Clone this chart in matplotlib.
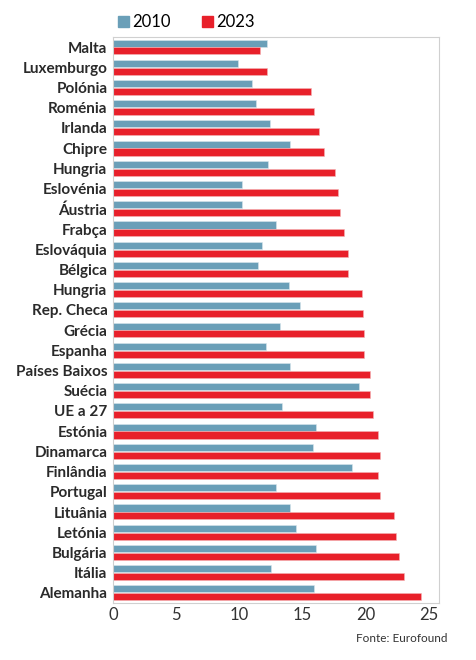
import numpy as np
import matplotlib
matplotlib.use("Agg")
import matplotlib.pyplot as plt
from matplotlib.patches import Patch

# dados
paises = ["Malta", "Luxemburgo", "Polónia", "Roménia", "Irlanda", "Chipre",
          "Hungria", "Eslovénia", "Áustria", "Frabça", "Eslováquia", "Bélgica",
          "Hungria", "Rep. Checa", "Grécia", "Espanha", "Países Baixos", "Suécia",
          "UE a 27", "Estónia", "Dinamarca", "Finlândia", "Portugal", "Lituânia",
          "Letónia", "Bulgária", "Itália", "Alemanha"]
v2010 = [12.2, 9.9, 11.0, 11.3, 12.4, 14.0, 12.3, 10.2, 10.2, 12.9, 11.8, 11.5,
         13.9, 14.8, 13.2, 12.1, 14.0, 19.5, 13.4, 16.1, 15.8, 18.9, 12.9, 14.0,
         14.5, 16.1, 12.5, 15.9]
v2023 = [11.6, 12.2, 15.7, 15.9, 16.3, 16.7, 17.6, 17.8, 18.0, 18.3, 18.6, 18.6,
         19.7, 19.8, 19.9, 19.9, 20.3, 20.3, 20.6, 21.0, 21.1, 21.0, 21.1, 22.2,
         22.4, 22.6, 23.0, 24.4]
anos = ["2010", "2023"]
cores = ["#6a9fb8", "#e8202a"]

plt.rcParams["font.family"] = ["Lato", "DejaVu Sans"]

fig = plt.figure(figsize=(4.76, 6.6), dpi=100)
ax = fig.add_axes([113/476, 1 - 603/660, (439 - 113)/476, (603 - 37)/660])

y = np.arange(len(paises))
ax.barh(y - 0.2, v2010, height=0.35, color=cores[0], edgecolor="#d8e6ec", linewidth=0.4)
ax.barh(y + 0.19, v2023, height=0.35, color=cores[1], edgecolor="#f3b3b5", linewidth=0.4)

ax.set_ylim(len(paises) - 0.5, -0.5)
ax.set_xlim(0, 25.8)
ax.set_yticks(y)
ax.set_yticklabels(paises, fontsize=11, fontweight="bold", color="#2a2a2a")
ax.set_xticks([0, 5, 10, 15, 20, 25])
ax.set_xticklabels(["0", "5", "10", "15", "20", "25"], fontsize=12, color="#333333")
ax.tick_params(axis="both", length=0)
ax.tick_params(axis="y", pad=4)
ax.tick_params(axis="x", pad=3)
for s in ax.spines.values():
    s.set_color("#d0d0d0")
    s.set_linewidth(0.8)

handles = [Patch(color=c, label=a) for c, a in zip(cores, anos)]
fig.legend(handles=handles, loc="center left", bbox_to_anchor=(111/476, 1 - 22/660),
           ncol=2, frameon=False, fontsize=12, handlelength=0.65, handleheight=0.65,
           handletextpad=0.2, columnspacing=1.9, borderaxespad=0)

fig.text(448/476, 1 - 639/660, "Fonte: Eurofound", ha="right", va="center",
         fontsize=8.5, color="#333333")

fig.savefig("out.png", dpi=100, facecolor="white")
